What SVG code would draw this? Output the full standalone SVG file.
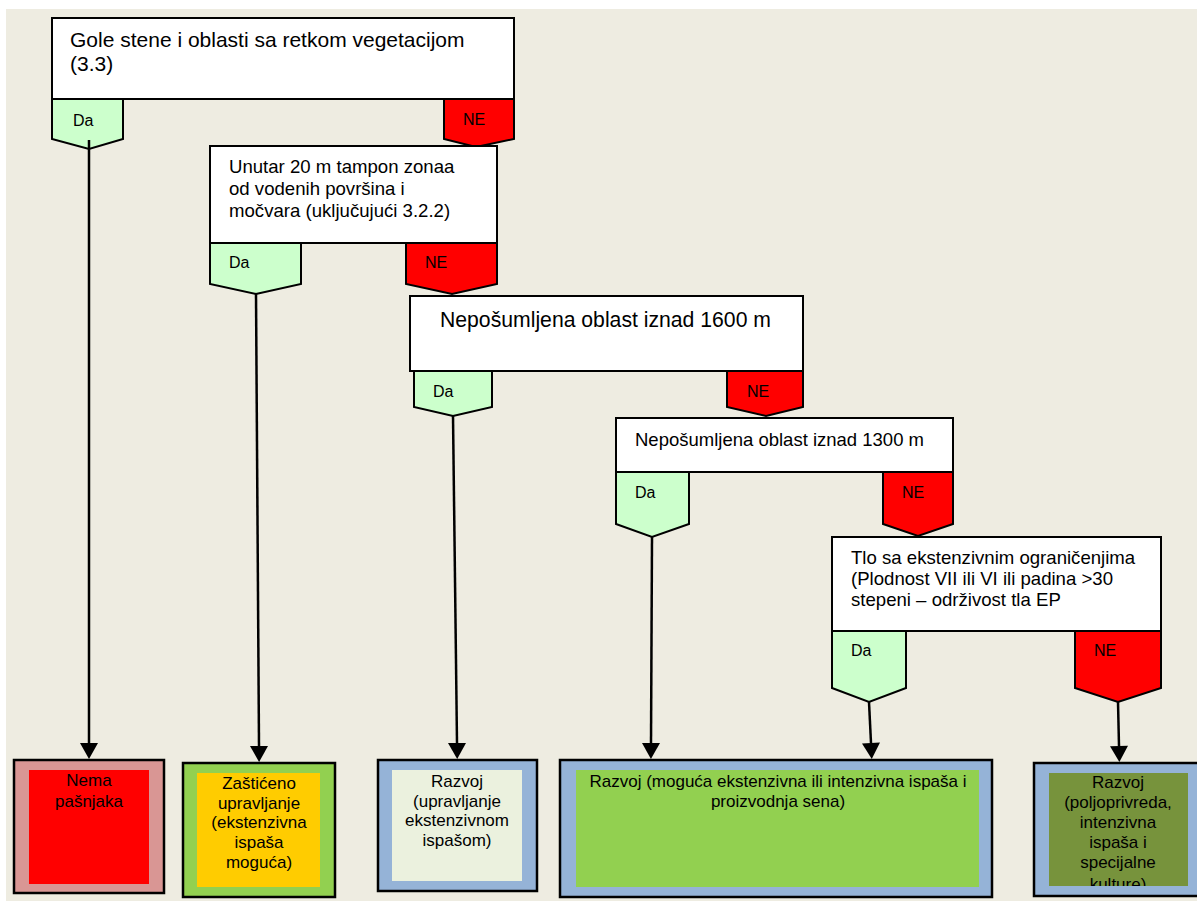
<svg xmlns="http://www.w3.org/2000/svg" width="1197" height="901" viewBox="0 0 1197 901">
<style>
  .box{fill:#ffffff;stroke:#000000;stroke-width:2}
  .da{fill:#CCFFCC;stroke:#000000;stroke-width:2}
  .ne{fill:#FF0000;stroke:#000000;stroke-width:2}
  .out{stroke:#000000;stroke-width:2.5}
  .t{font-family:"Liberation Sans",Arial,sans-serif;fill:#000000}
  .tag{font-family:"Liberation Sans",Arial,sans-serif;font-size:16px;fill:#000000}
  .res{font-family:"Liberation Sans",Arial,sans-serif;font-size:17px;fill:#000000;text-anchor:middle}
  .conn{stroke:#000000;stroke-width:2.5;fill:none}
</style>
<defs>
  <marker id="arr" markerUnits="userSpaceOnUse" markerWidth="20" markerHeight="20" refX="0" refY="9" orient="auto" overflow="visible">
    <path d="M0,0 L16,9 L0,18 Z" fill="#000000"/>
  </marker>
  <clipPath id="clipE"><rect x="1049" y="773" width="139" height="113"/></clipPath>
</defs>
<rect x="0" y="0" width="1197" height="901" fill="#ffffff"/>
<rect x="6" y="9" width="1191" height="892" fill="#EEECE1"/>

<g id="q1">
  <rect class="box" x="52" y="18" width="462" height="81"/>
  <text class="t" font-size="21" x="70" y="47">Gole stene i oblasti sa retkom vegetacijom</text>
  <text class="t" font-size="21" x="70" y="71">(3.3)</text>
</g>
<g id="q1-da">
  <polygon class="da" points="52,99 123,99 123,139 89,149 52,139"/>
  <text class="tag" x="73" y="126">Da</text>
</g>
<g id="q1-ne">
  <polygon class="ne" points="444,99 514,99 514,139 476,147 444,139"/>
  <text class="tag" x="463" y="125">NE</text>
</g>

<g id="q2">
  <rect class="box" x="210" y="146" width="287" height="97"/>
  <text class="t" font-size="18.6" x="229" y="173">Unutar 20 m tampon zonaa</text>
  <text class="t" font-size="18.6" x="229" y="195">od vodenih površina i</text>
  <text class="t" font-size="18.6" x="229" y="217">močvara (uključujući 3.2.2)</text>
</g>
<g id="q2-da">
  <polygon class="da" points="210,243 301,243 301,284 256,294 210,284"/>
  <text class="tag" x="229" y="268">Da</text>
</g>
<g id="q2-ne">
  <polygon class="ne" points="406,243 497,243 497,284 452,294 406,284"/>
  <text class="tag" x="425" y="268">NE</text>
</g>

<g id="q3">
  <rect class="box" x="410" y="296" width="393" height="75"/>
  <text class="t" font-size="21.2" x="440" y="327">Nepošumljena oblast iznad 1600 m</text>
</g>
<g id="q3-da">
  <polygon class="da" points="414,371 492,371 492,407 453,416 414,407"/>
  <text class="tag" x="433" y="397">Da</text>
</g>
<g id="q3-ne">
  <polygon class="ne" points="727,371 803,371 803,407 766,416 727,407"/>
  <text class="tag" x="747" y="397">NE</text>
</g>

<g id="q4">
  <rect class="box" x="616" y="418" width="337" height="54"/>
  <text class="t" font-size="18.5" x="635" y="446">Nepošumljena oblast iznad 1300 m</text>
</g>
<g id="q4-da">
  <polygon class="da" points="616,472 689,472 689,524 652,537 616,524"/>
  <text class="tag" x="635" y="498">Da</text>
</g>
<g id="q4-ne">
  <polygon class="ne" points="883,472 953,472 953,524 918,536 883,524"/>
  <text class="tag" x="902" y="498">NE</text>
</g>

<g id="q5">
  <rect class="box" x="832" y="537" width="329" height="94"/>
  <text class="t" font-size="18.6" x="851" y="564">Tlo sa ekstenzivnim ograničenjima</text>
  <text class="t" font-size="18.6" x="851" y="585">(Plodnost VII ili VI ili padina &gt;30</text>
  <text class="t" font-size="18.6" x="851" y="606">stepeni – održivost tla EP</text>
</g>
<g id="q5-da">
  <polygon class="da" points="832,631 906,631 906,688 869,702 832,688"/>
  <text class="tag" x="851" y="656">Da</text>
</g>
<g id="q5-ne">
  <polygon class="ne" points="1075,631 1161,631 1161,688 1118,702 1075,688"/>
  <text class="tag" x="1094" y="656">NE</text>
</g>

<g id="r1">
  <rect class="out" x="14" y="760" width="150" height="133" fill="#D99694"/>
  <rect x="29" y="770" width="120" height="114" fill="#FF0000"/>
  <text class="res" x="89" y="786">Nema</text>
  <text class="res" x="89" y="807">pašnjaka</text>
</g>
<g id="r2">
  <rect class="out" x="183" y="763" width="152" height="134" fill="#92D050"/>
  <rect x="197" y="773" width="123" height="114" fill="#FFCC00"/>
  <text class="res" x="259" y="789">Zaštićeno</text>
  <text class="res" x="259" y="809">upravljanje</text>
  <text class="res" x="259" y="828">(ekstenzivna</text>
  <text class="res" x="259" y="848">ispaša</text>
  <text class="res" x="259" y="868">moguća)</text>
</g>
<g id="r3">
  <rect class="out" x="378" y="760" width="159" height="131" fill="#95B3D7"/>
  <rect x="392" y="770" width="130" height="111" fill="#EBF1DE"/>
  <text class="res" x="457" y="787">Razvoj</text>
  <text class="res" x="457" y="807">(upravljanje</text>
  <text class="res" x="457" y="826">ekstenzivnom</text>
  <text class="res" x="457" y="846">ispašom)</text>
</g>
<g id="r4">
  <rect class="out" x="560" y="760" width="432" height="137" fill="#95B3D7"/>
  <rect x="576" y="770" width="403" height="117" fill="#92D050"/>
  <text class="res" x="778" y="787">Razvoj (moguća ekstenzivna ili intenzivna ispaša i</text>
  <text class="res" x="778" y="807">proizvodnja sena)</text>
</g>
<g id="r5">
  <rect class="out" x="1034" y="763" width="172" height="133" fill="#95B3D7"/>
  <rect x="1049" y="773" width="139" height="113" fill="#77933C"/>
  <g clip-path="url(#clipE)">
    <text class="res" x="1118" y="788">Razvoj</text>
    <text class="res" x="1118" y="808">(poljoprivreda,</text>
    <text class="res" x="1118" y="828">intenzivna</text>
    <text class="res" x="1118" y="848">ispaša i</text>
    <text class="res" x="1118" y="868">specijalne</text>
    <text class="res" x="1118" y="890">kulture)</text>
  </g>
</g>

<g id="connectors">
  <line class="conn" x1="89" y1="140" x2="89" y2="743" marker-end="url(#arr)"/>
  <line class="conn" x1="256" y1="294" x2="259" y2="746" marker-end="url(#arr)"/>
  <line class="conn" x1="453" y1="416" x2="457" y2="743" marker-end="url(#arr)"/>
  <line class="conn" x1="652" y1="537" x2="651" y2="743" marker-end="url(#arr)"/>
  <line class="conn" x1="869" y1="702" x2="871" y2="743" marker-end="url(#arr)"/>
  <line class="conn" x1="1118" y1="702" x2="1119" y2="746" marker-end="url(#arr)"/>
</g>
</svg>
